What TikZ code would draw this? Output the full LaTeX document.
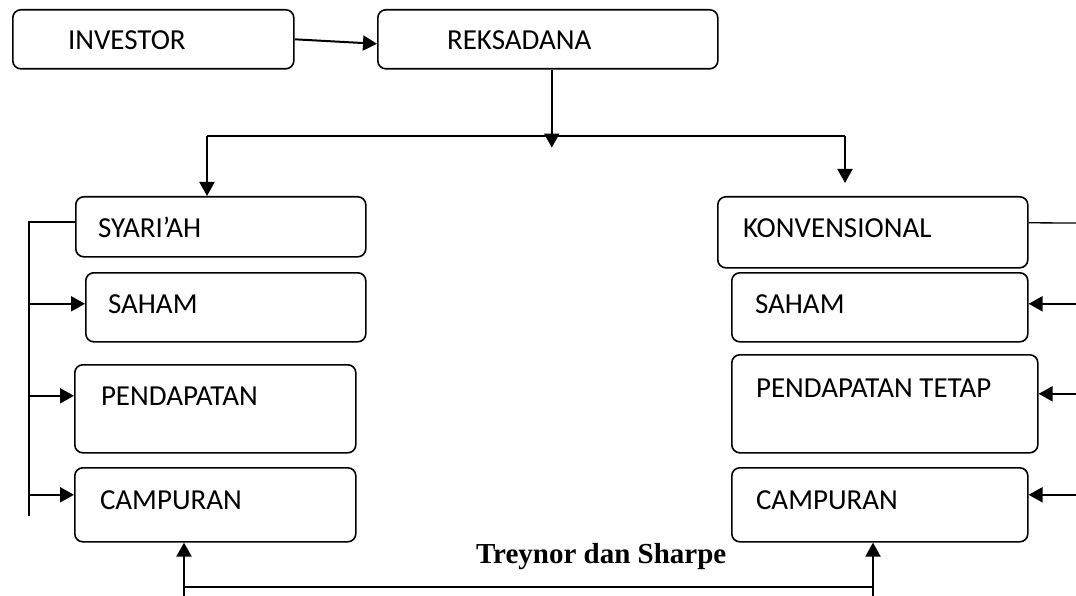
\documentclass[tikz,border=0pt]{standalone}
\usepackage{fontspec}
\setmainfont{Carlito}
\newfontfamily\headserif{Liberation Serif}
\usetikzlibrary{arrows.meta, positioning, calc}
\tikzset{
  every picture/.style={line width=2pt},
  box/.style={draw, rounded corners=8pt, line width=1.6pt, inner sep=0pt, anchor=north west},
  boxtext/.style={anchor=base west, inner sep=0pt, font=\fontsize{29}{34}\selectfont},
  arrow/.style={-{Triangle[length=14pt, width=15pt]}, line width=2pt},
  link/.style={line width=2pt},
}

\begin{document}
\begin{tikzpicture}[x=1pt, y=-1pt]
  \useasboundingbox (0,0) rectangle (1076,596);
  % top row
  \node[box, minimum width=281pt, minimum height=59pt] (inv) at (12,9) {};
  \node[box, minimum width=340pt, minimum height=59pt] (reks) at (377,9) {};
  \node[boxtext] (invT) at (67,50) {INVESTOR};
  \node[boxtext] (reksT) at (446,50) {REKSADANA};
  % left column
  \node[box, minimum width=290pt, minimum height=60pt] (syar) at (75,196) {};
  \node[box, minimum width=280pt, minimum height=69pt] (sahamL) at (85,272) {};
  \node[box, minimum width=281pt, minimum height=88pt] (pendL) at (74,364) {};
  \node[box, minimum width=281pt, minimum height=74pt] (campL) at (74,467) {};
  \node[boxtext] (syarT) at (97,237) {SYARI’AH};
  \node[boxtext] (sahamLT) at (107,313) {SAHAM};
  \node[boxtext] (pendLT) at (100,405) {PENDAPATAN};
  \node[boxtext] (campLT) at (99,509) {CAMPURAN};
  % right column
  \node[box, minimum width=310pt, minimum height=71pt] (konv) at (717,196) {};
  \node[box, minimum width=296pt, minimum height=69pt] (sahamR) at (731,272) {};
  \node[box, minimum width=306pt, minimum height=98pt] (pendR) at (731,354) {};
  \node[box, minimum width=296pt, minimum height=74pt] (campR) at (731,467) {};
  \node[boxtext] (konvT) at (742,237) {KONVENSIONAL};
  \node[boxtext] (sahamRT) at (754,313) {SAHAM};
  \node[boxtext] (pendRT) at (755,397) {PENDAPATAN TETAP};
  \node[boxtext] (campRT) at (755,509) {CAMPURAN};
  \node[anchor=base west, inner sep=0pt, font=\headserif\bfseries\fontsize{29}{34}\selectfont] (method) at (475,563) {Treynor dan Sharpe};

  \coordinate (busL) at (207,136);
  \coordinate (busR) at (845,136);
  \coordinate (railL) at (29,222);
  \coordinate (railEnd) at (29,516);
  \coordinate (edgeR) at (1076,223);
  \coordinate (botL) at (184,587);
  \coordinate (botR) at (873,587);

  \draw[arrow] (inv.east) -- ([yshift=-4.5pt]reks.west);
  \draw[arrow] ([xshift=4pt]reks.south) -- ++(0,78);
  \draw[link] (busL) -- (busR);
  \draw[arrow] (busL) -- (busL |- syar.north);
  \draw[arrow] (busR) -- ++(0,47);

  \draw[link] (syar.west |- railL) -- (railL) -- (railEnd);
  \draw[arrow] ([yshift=3.5pt]sahamL.west -| railL) -- ([yshift=3.5pt]sahamL.west);
  \draw[arrow] ([yshift=13pt]pendL.west -| railL) -- ([yshift=13pt]pendL.west);
  \draw[arrow] ([yshift=10pt]campL.west -| railL) -- ([yshift=10pt]campL.west);

  \draw[line width=1.3pt] ([yshift=9.5pt]konv.east) -- (edgeR);
  \draw[arrow] ([yshift=3.5pt]sahamR.east -| edgeR) -- ([yshift=3.5pt]sahamR.east);
  \draw[arrow] ([yshift=10pt]pendR.east -| edgeR) -- ([yshift=10pt]pendR.east);
  \draw[arrow] ([yshift=10pt]campR.east -| edgeR) -- ([yshift=10pt]campR.east);

  \draw[link] (botL) -- (botR);
  \draw[arrow] (botL) ++(0,9) -- (botL |- campL.south);
  \draw[arrow] (botR) ++(0,9) -- (botR |- campR.south);
\end{tikzpicture}
\end{document}
